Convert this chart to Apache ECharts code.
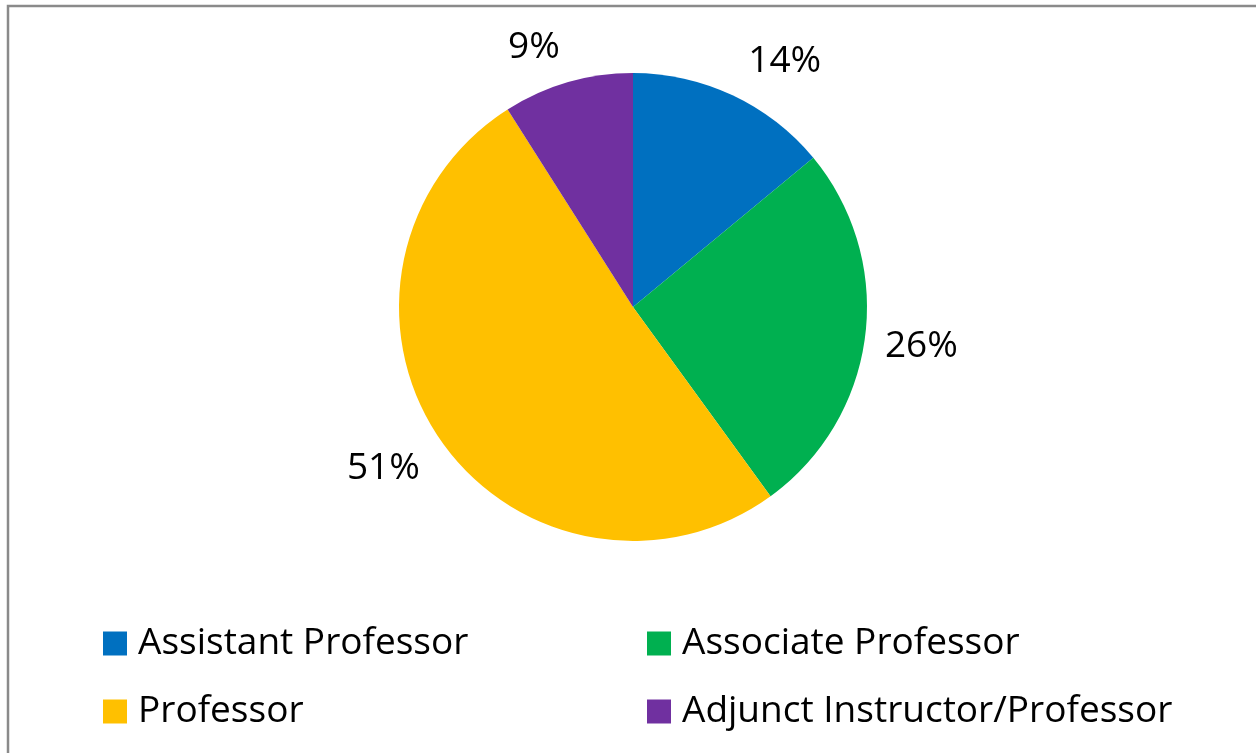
<!DOCTYPE html>
<html>
<head>
<meta charset="utf-8">
<script src="https://cdn.jsdelivr.net/npm/echarts@6/dist/echarts.min.js"></script>
<style>
  html, body { margin: 0; padding: 0; background: #fff; }
  #chart { width: 1256px; height: 753px; }
</style>
</head>
<body>
<div id="chart"></div>
<script>
// 职称构成
const categories = ['Assistant Professor', 'Associate Professor', 'Professor', 'Adjunct Instructor/Professor'];
const shares = [14, 26, 51, 9];
const colors = ['#0070C0', '#00B050', '#FFC000', '#7030A0'];
// 标签微调（Excel 的外侧标签位置）
const labelNudge = [[0, -11], [-10, 7], [6, 16], [4, -11]];

const chartDom = document.getElementById('chart');
const myChart = echarts.init(chartDom);
const fontFamily = '"Open Sans", "Noto Sans", sans-serif';

const legendBase = {
    orient: 'vertical',
    top: 625,
    height: 125,
    padding: 0,
    icon: 'rect',
    itemWidth: 24,
    itemHeight: 24,
    itemGap: 31,
    selectedMode: false,
    textStyle: {
        fontFamily: fontFamily,
        fontSize: 37,
        color: '#000',
        padding: [0, 0, 0, 6]
    }
};

const option = {
    backgroundColor: '#fff',
    animation: false,
    color: colors,
    graphic: [{
        type: 'rect',
        shape: { x: 8, y: 6, width: 1300, height: 800 },
        style: { fill: 'none', stroke: '#8a8a8a', lineWidth: 2.5 },
        silent: true
    }],
    legend: [
        Object.assign({}, legendBase, { left: 103, data: [categories[0], categories[2]] }),
        Object.assign({}, legendBase, { left: 647, data: [categories[1], categories[3]] })
    ],
    series: [{
        type: 'pie',
        center: [633, 307],
        radius: 234,
        startAngle: 90,
        clockwise: true,
        data: categories.map((name, i) => ({ name: name, value: shares[i] })),
        label: {
            show: true,
            position: 'outside',
            formatter: '{c}%',
            fontFamily: fontFamily,
            fontSize: 37,
            color: '#000'
        },
        labelLine: {
            show: false,
            length: 25,
            length2: 0
        },
        labelLayout: function (params) {
            const d = labelNudge[params.dataIndex];
            return { dx: d[0], dy: d[1] };
        },
        itemStyle: { borderWidth: 0 },
        emphasis: { disabled: true }
    }]
};
myChart.setOption(option);
</script>
</body>
</html>
